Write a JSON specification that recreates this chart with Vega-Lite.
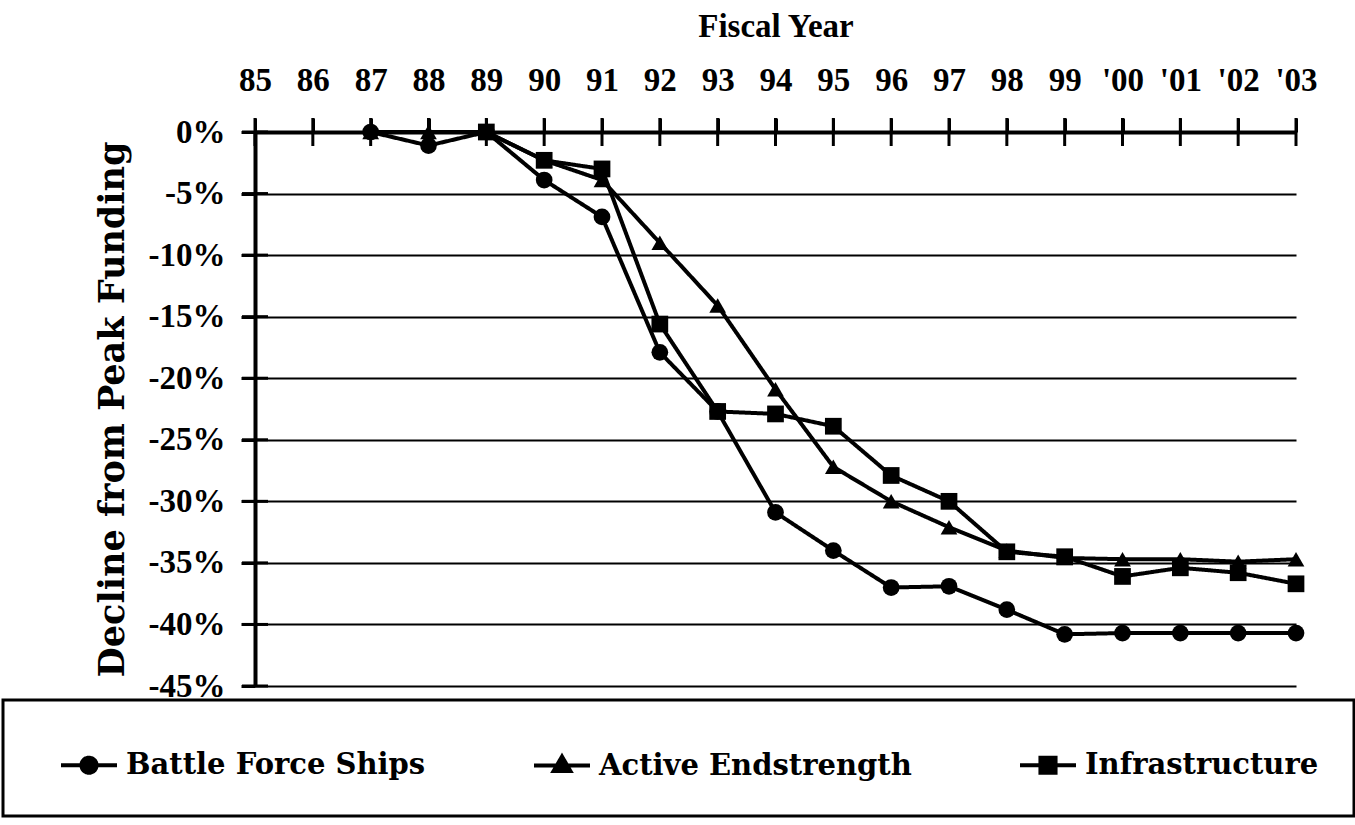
{
  "$schema": "https://vega.github.io/schema/vega-lite/v6.json",
  "width": 1041,
  "height": 554,
  "autosize": {"type": "none"},
  "padding": {"left": 255, "top": 132, "right": 59, "bottom": 139},
  "background": "white",
  "config": {
    "view": {"stroke": null},
    "font": "Liberation Serif"
  },
  "datasets": {
    "main": [
      {"year": "87", "series": "Battle Force Ships", "value": 0},
      {"year": "88", "series": "Battle Force Ships", "value": -1.1},
      {"year": "89", "series": "Battle Force Ships", "value": 0},
      {"year": "90", "series": "Battle Force Ships", "value": -3.9},
      {"year": "91", "series": "Battle Force Ships", "value": -6.9},
      {"year": "92", "series": "Battle Force Ships", "value": -17.9},
      {"year": "93", "series": "Battle Force Ships", "value": -22.7},
      {"year": "94", "series": "Battle Force Ships", "value": -30.9},
      {"year": "95", "series": "Battle Force Ships", "value": -34.0},
      {"year": "96", "series": "Battle Force Ships", "value": -37.0},
      {"year": "97", "series": "Battle Force Ships", "value": -36.9},
      {"year": "98", "series": "Battle Force Ships", "value": -38.8},
      {"year": "99", "series": "Battle Force Ships", "value": -40.8},
      {"year": "'00", "series": "Battle Force Ships", "value": -40.7},
      {"year": "'01", "series": "Battle Force Ships", "value": -40.7},
      {"year": "'02", "series": "Battle Force Ships", "value": -40.7},
      {"year": "'03", "series": "Battle Force Ships", "value": -40.7},
      {"year": "87", "series": "Active Endstrength", "value": 0},
      {"year": "88", "series": "Active Endstrength", "value": 0},
      {"year": "89", "series": "Active Endstrength", "value": 0},
      {"year": "90", "series": "Active Endstrength", "value": -2.3},
      {"year": "91", "series": "Active Endstrength", "value": -3.9},
      {"year": "92", "series": "Active Endstrength", "value": -9.0},
      {"year": "93", "series": "Active Endstrength", "value": -14.1},
      {"year": "94", "series": "Active Endstrength", "value": -20.9},
      {"year": "95", "series": "Active Endstrength", "value": -27.2},
      {"year": "96", "series": "Active Endstrength", "value": -30.0},
      {"year": "97", "series": "Active Endstrength", "value": -32.1},
      {"year": "98", "series": "Active Endstrength", "value": -34.0},
      {"year": "99", "series": "Active Endstrength", "value": -34.6},
      {"year": "'00", "series": "Active Endstrength", "value": -34.7},
      {"year": "'01", "series": "Active Endstrength", "value": -34.7},
      {"year": "'02", "series": "Active Endstrength", "value": -34.9},
      {"year": "'03", "series": "Active Endstrength", "value": -34.7},
      {"year": "89", "series": "Infrastructure", "value": 0},
      {"year": "90", "series": "Infrastructure", "value": -2.3},
      {"year": "91", "series": "Infrastructure", "value": -3.0},
      {"year": "92", "series": "Infrastructure", "value": -15.6},
      {"year": "93", "series": "Infrastructure", "value": -22.7},
      {"year": "94", "series": "Infrastructure", "value": -22.9},
      {"year": "95", "series": "Infrastructure", "value": -23.9},
      {"year": "96", "series": "Infrastructure", "value": -27.9},
      {"year": "97", "series": "Infrastructure", "value": -30.0},
      {"year": "98", "series": "Infrastructure", "value": -34.1},
      {"year": "99", "series": "Infrastructure", "value": -34.5},
      {"year": "'00", "series": "Infrastructure", "value": -36.1},
      {"year": "'01", "series": "Infrastructure", "value": -35.4},
      {"year": "'02", "series": "Infrastructure", "value": -35.8},
      {"year": "'03", "series": "Infrastructure", "value": -36.7}
    ],
    "xticks": [
      {"year": "85", "value": 0}, {"year": "86", "value": 0}, {"year": "87", "value": 0},
      {"year": "88", "value": 0}, {"year": "89", "value": 0}, {"year": "90", "value": 0},
      {"year": "91", "value": 0}, {"year": "92", "value": 0}, {"year": "93", "value": 0},
      {"year": "94", "value": 0}, {"year": "95", "value": 0}, {"year": "96", "value": 0},
      {"year": "97", "value": 0}, {"year": "98", "value": 0}, {"year": "99", "value": 0},
      {"year": "'00", "value": 0}, {"year": "'01", "value": 0}, {"year": "'02", "value": 0},
      {"year": "'03", "value": 0}
    ],
    "yticks": [
      {"year": "85", "value": 0}, {"year": "85", "value": -5}, {"year": "85", "value": -10},
      {"year": "85", "value": -15}, {"year": "85", "value": -20}, {"year": "85", "value": -25},
      {"year": "85", "value": -30}, {"year": "85", "value": -35}, {"year": "85", "value": -40},
      {"year": "85", "value": -45}
    ]
  },
  "encoding": {
    "x": {
      "field": "year",
      "type": "ordinal",
      "scale": {
        "type": "point",
        "padding": 0,
        "domain": ["85", "86", "87", "88", "89", "90", "91", "92", "93", "94", "95", "96", "97", "98", "99", "'00", "'01", "'02", "'03"]
      },
      "axis": {
        "orient": "top",
        "title": "Fiscal Year",
        "titleFont": "Liberation Serif",
        "titleFontSize": 33,
        "titleFontWeight": "bold",
        "titleColor": "black",
        "titlePadding": 21,
        "labelFont": "Liberation Serif",
        "labelFontSize": 33,
        "labelFontWeight": "bold",
        "labelColor": "black",
        "labelAngle": 0,
        "labelPadding": 21,
        "domainColor": "black",
        "domainWidth": 4,
        "tickColor": "black",
        "tickWidth": 3,
        "tickSize": 14,
        "grid": false
      }
    },
    "y": {
      "field": "value",
      "type": "quantitative",
      "scale": {"domain": [-45, 0], "nice": false, "zero": false},
      "axis": {
        "title": "Decline from Peak Funding",
        "titleFont": "DejaVu Serif",
        "titleFontSize": 35,
        "titleFontWeight": "bold",
        "titleColor": "black",
        "titlePadding": 18,
        "values": [0, -5, -10, -15, -20, -25, -30, -35, -40, -45],
        "labelExpr": "datum.value + '%'",
        "labelFont": "Liberation Serif",
        "labelFontSize": 33,
        "labelFontWeight": "bold",
        "labelColor": "black",
        "labelPadding": 16,
        "domainColor": "black",
        "domainWidth": 4,
        "tickColor": "black",
        "tickWidth": 3,
        "tickSize": 14,
        "grid": true,
        "gridColor": "black",
        "gridWidth": 2,
        "gridOpacity": 1
      }
    }
  },
  "layer": [
    {
      "data": {"name": "xticks"},
      "mark": {"type": "tick", "orient": "vertical", "size": 28, "thickness": 3, "color": "black", "opacity": 1}
    },
    {
      "data": {"name": "yticks"},
      "mark": {"type": "tick", "orient": "horizontal", "size": 26, "thickness": 3, "color": "black", "opacity": 1}
    },
    {
      "data": {"name": "main"},
      "mark": {"type": "line", "color": "black", "strokeWidth": 4},
      "encoding": {
        "strokeDash": {
          "field": "series",
          "type": "nominal",
          "scale": {
            "domain": ["Battle Force Ships", "Active Endstrength", "Infrastructure"],
            "range": [[1, 0], [1, 0], [1, 0]]
          },
          "legend": {
            "orient": "none",
            "legendX": -252,
            "legendY": 568,
            "direction": "horizontal",
            "title": " ",
            "titleOrient": "left",
            "titleFontSize": 10,
            "titlePadding": 21,
            "padding": 35,
            "columnPadding": 100,
            "strokeColor": "black",
            "symbolSize": 3136,
            "symbolStrokeWidth": 4,
            "symbolStrokeColor": "black",
            "symbolFillColor": "black",
            "symbolOpacity": 1,
            "labelFont": "DejaVu Serif",
            "labelFontSize": 29,
            "labelFontWeight": "bold",
            "labelColor": "black",
            "labelOffset": 7,
            "labelLimit": 0,
            "encode": {
              "legend": {"update": {"strokeWidth": {"value": 3}}},
              "symbols": {
                "update": {
                  "shape": {"signal": "datum.value === 'Battle Force Ships' ? 'M-1,0H1M0.27,0A0.27,0.27,0,1,1,-0.27,0A0.27,0.27,0,1,1,0.27,0Z' : datum.value === 'Active Endstrength' ? 'M-1,0H1M0,-0.32L0.3,0.2L-0.3,0.2Z' : 'M-1,0H1M-0.27,-0.27H0.27V0.27H-0.27Z'"},
                  "fill": {"value": "black"},
                  "stroke": {"value": "black"},
                  "strokeWidth": {"value": 4}
                }
              }
            }
          }
        }
      }
    },
    {
      "data": {"name": "main"},
      "mark": {"type": "point", "filled": true, "color": "black", "opacity": 1, "size": 280},
      "encoding": {
        "shape": {
          "field": "series",
          "type": "nominal",
          "scale": {
            "range": ["triangle-up", "circle", "square"]
          },
          "legend": null
        }
      }
    }
  ]
}
